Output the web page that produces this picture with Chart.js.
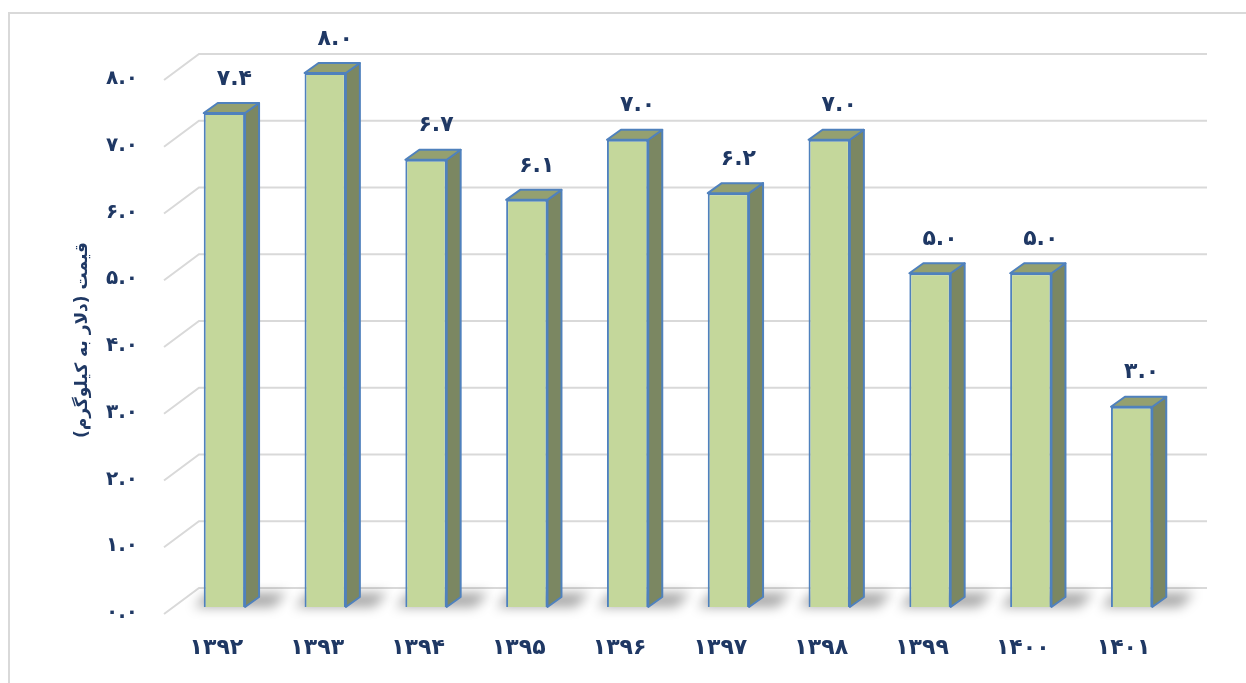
<!DOCTYPE html>
<html lang="fa">
<head>
<meta charset="utf-8">
<script src="https://cdn.jsdelivr.net/npm/chart.js@4"></script>
<style>
  html, body { margin: 0; padding: 0; background: #fff; overflow: hidden; }
  #wrap { position: relative; width: 1246px; height: 683px; }
  #frame { position: absolute; left: 8px; top: 12px; width: 1400px; height: 900px;
           border-left: 2px solid #d9d9d9; border-top: 2px solid #d9d9d9; }
  #priceChart { position: absolute; left: 0; top: 0; }
</style>
</head>
<body>
<div id="wrap">
  <div id="frame"></div>
  <canvas id="priceChart" width="1246" height="683"></canvas>
</div>
<script>
// سال‌ها و قیمت (دلار به کیلوگرم)
const years = ['۱۳۹۲', '۱۳۹۳', '۱۳۹۴', '۱۳۹۵', '۱۳۹۶', '۱۳۹۷', '۱۳۹۸', '۱۳۹۹', '۱۴۰۰', '۱۴۰۱'];
const prices = [7.4, 8.0, 6.7, 6.1, 7.0, 6.2, 7.0, 5.0, 5.0, 3.0];
const yMin = 0;
const yMax = 8;
const yStep = 1;
const axisTitle = '\u200Fقیمت (دلار به کیلوگرم)\u200F';

const faDigits = '۰۱۲۳۴۵۶۷۸۹';
const toFa = s => String(s).replace(/\d/g, d => faDigits[d]);

const navy = '#1f3864';
const FONT = '"DejaVu Sans", sans-serif';

// عمق جعبه‌ها و دیوار پشتی
const BAR_DX = 14, BAR_DY = 10;
const BACK_DX = 25, BACK_DY = 19;
const FRONT_DX = -10, FRONT_DY = 7;

const box3d = {
  id: 'box3d',
  beforeDatasetsDraw(chart) {
    const { ctx, chartArea: { left, right }, scales: { y } } = chart;
    ctx.save();
    // خطوط شبکه روی دیوار و کف
    ctx.strokeStyle = '#d9d9d9';
    ctx.lineWidth = 2;
    y.ticks.forEach(t => {
      const py = y.getPixelForValue(t.value);
      ctx.beginPath();
      ctx.moveTo(left + FRONT_DX, py + FRONT_DY);
      ctx.lineTo(left + BACK_DX, py - BACK_DY);
      ctx.lineTo(right + BACK_DX, py - BACK_DY);
      ctx.stroke();
    });
    // سایه‌ی نرم پای ستون‌ها
    const meta = chart.getDatasetMeta(0);
    ctx.filter = 'blur(6px)';
    ctx.fillStyle = 'rgba(0,0,0,0.35)';
    meta.data.forEach(bar => {
      const x0 = bar.x - bar.width / 2, x1 = bar.x + bar.width / 2;
      const b = bar.base;
      ctx.beginPath();
      ctx.moveTo(x0 - 10, b);
      ctx.lineTo(x1 + 28, b);
      ctx.lineTo(x1 + 28 + BAR_DX, b - BAR_DY - 4);
      ctx.lineTo(x0 - 10 + BAR_DX, b - BAR_DY - 4);
      ctx.closePath();
      ctx.fill();
    });
    ctx.restore();
  },
  afterDatasetsDraw(chart) {
    const { ctx } = chart;
    const meta = chart.getDatasetMeta(0);
    ctx.save();
    ctx.lineWidth = 2;
    ctx.lineJoin = 'round';
    ctx.strokeStyle = '#4f81bd';
    meta.data.forEach((bar, i) => {
      const x0 = bar.x - bar.width / 2, x1 = bar.x + bar.width / 2;
      const top = bar.y, b = bar.base;
      // وجه کناری
      ctx.beginPath();
      ctx.moveTo(x1, top);
      ctx.lineTo(x1 + BAR_DX, top - BAR_DY);
      ctx.lineTo(x1 + BAR_DX, b - BAR_DY);
      ctx.lineTo(x1, b);
      ctx.closePath();
      ctx.fillStyle = '#7b8762';
      ctx.fill();
      ctx.stroke();
      // وجه بالایی
      ctx.beginPath();
      ctx.moveTo(x0, top);
      ctx.lineTo(x1, top);
      ctx.lineTo(x1 + BAR_DX, top - BAR_DY);
      ctx.lineTo(x0 + BAR_DX, top - BAR_DY);
      ctx.closePath();
      ctx.fillStyle = '#94a070';
      ctx.fill();
      ctx.stroke();
      // برچسب مقدار
      ctx.fillStyle = navy;
      ctx.font = 'bold 22px ' + FONT;
      ctx.textAlign = 'center';
      ctx.textBaseline = 'middle';
      ctx.fillText(toFa(prices[i].toFixed(1)), bar.x + 10, top - 34);
    });
    ctx.restore();
  }
};

new Chart(document.getElementById('priceChart'), {
  type: 'bar',
  data: {
    labels: years,
    datasets: [{
      data: prices,
      backgroundColor: '#c4d79b',
      borderColor: '#4f81bd',
      borderWidth: 2,
      categoryPercentage: 1,
      barPercentage: 0.41
    }]
  },
  options: {
    responsive: false,
    animation: false,
    layout: { padding: { left: 0, right: 64, top: 73, bottom: 0 } },
    plugins: {
      legend: { display: false },
      tooltip: { enabled: false }
    },
    scales: {
      x: {
        grid: { display: false, drawTicks: false },
        border: { display: false },
        ticks: {
          color: navy,
          font: { family: FONT, size: 22, weight: 'bold' },
          labelOffset: -8,
          padding: 28
        },
        afterFit(scale) { scale.height = 76; }
      },
      y: {
        min: yMin,
        max: yMax,
        grid: { display: false, drawTicks: false },
        border: { display: false },
        ticks: {
          stepSize: yStep,
          color: navy,
          font: { family: FONT, size: 20, weight: 'bold' },
          labelOffset: 6,
          padding: 36,
          callback: v => toFa(Number(v).toFixed(1))
        },
        title: {
          display: true,
          text: axisTitle,
          color: navy,
          font: { family: FONT, size: 17, weight: 'bold' },
          padding: { top: 72, bottom: 0 }
        },
        afterFit(scale) { scale.width = 174; }
      }
    }
  },
  plugins: [box3d]
});
</script>
</body>
</html>
